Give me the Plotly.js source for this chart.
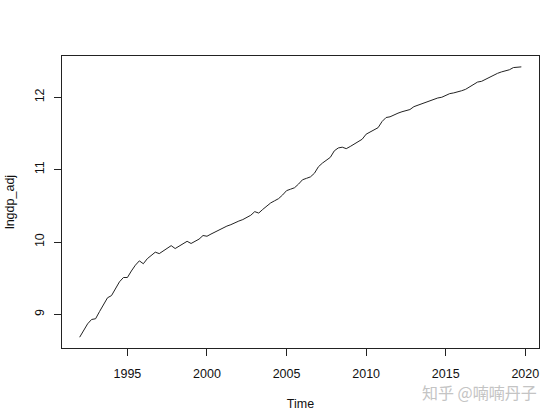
<!DOCTYPE html>
<html>
<head>
<meta charset="utf-8">
<script src="https://cdn.plot.ly/plotly-3.0.1.min.js"></script>
<style>html,body{margin:0;padding:0;background:#fff;}#chart{width:555px;height:416px;}</style>
</head>
<body>
<div id="chart"></div>
<script>
// Quarterly series, 1992 Q1 .. 2019 Q4
var startYear = 1992;
var lngdp_adj = [
  8.685, 8.78, 8.87, 8.93,     // 1992
  8.94, 9.04, 9.13, 9.23,      // 1993
  9.26, 9.36, 9.45, 9.51,      // 1994
  9.51, 9.60, 9.68, 9.74,      // 1995
  9.70, 9.77, 9.82, 9.86,      // 1996
  9.84, 9.88, 9.92, 9.95,      // 1997
  9.91, 9.94, 9.98, 10.01,     // 1998
  9.98, 10.01, 10.04, 10.09,   // 1999
  10.08, 10.11, 10.14, 10.17,  // 2000
  10.20, 10.22, 10.24, 10.27,  // 2001
  10.29, 10.31, 10.34, 10.37,  // 2002
  10.42, 10.40, 10.45, 10.50,  // 2003
  10.54, 10.57, 10.60, 10.65,  // 2004
  10.71, 10.73, 10.75, 10.80,  // 2005
  10.86, 10.88, 10.90, 10.95,  // 2006
  11.04, 11.09, 11.13, 11.17,  // 2007
  11.26, 11.30, 11.31, 11.29,  // 2008
  11.32, 11.35, 11.39, 11.42,  // 2009
  11.49, 11.52, 11.54, 11.58,  // 2010
  11.665, 11.72, 11.73, 11.76, // 2011
  11.78, 11.80, 11.81, 11.83,  // 2012
  11.87, 11.89, 11.91, 11.935, // 2013
  11.96, 11.98, 11.99, 12.00,  // 2014
  12.03, 12.05, 12.06, 12.07,  // 2015
  12.09, 12.11, 12.14, 12.17,  // 2016
  12.21, 12.22, 12.25, 12.27,  // 2017
  12.31, 12.33, 12.35, 12.365, // 2018
  12.38, 12.41, 12.415, 12.42  // 2019
];
var time = lngdp_adj.map(function(_, i){ return startYear + i / 4; });
var xTicks = [1995, 2000, 2005, 2010, 2015, 2020];
var yTicks = [9, 10, 11, 12];

var font = {family: 'Liberation Sans, Arial, sans-serif', size: 12.5, color: '#111'};

Plotly.newPlot('chart', [{
  x: time, y: lngdp_adj, type: 'scatter', mode: 'lines',
  line: {color: '#222', width: 1}, hoverinfo: 'x+y'
}], {
  width: 555, height: 416,
  margin: {l: 62, r: 16, t: 56, b: 68},
  paper_bgcolor: '#fff', plot_bgcolor: '#fff',
  font: font,
  showlegend: false,
  xaxis: {
    range: [1990.89, 2020.86], tickvals: xTicks, ticktext: xTicks.map(String),
    showgrid: false, zeroline: false, showline: true, mirror: true,
    linecolor: '#222', linewidth: 1, ticks: 'outside', ticklen: 7, tickcolor: '#222', tickwidth: 1,
    ticklabelstandoff: 7,
    title: {text: 'Time', font: font, standoff: 19}
  },
  yaxis: {
    range: [8.536, 12.57], tickvals: yTicks, ticktext: yTicks.map(String),
    showgrid: false, zeroline: false, showline: true, mirror: true,
    linecolor: '#222', linewidth: 1, ticks: 'outside', ticklen: 7, tickcolor: '#222', tickwidth: 1,
    tickangle: -90, ticklabelstandoff: 5,
    title: {text: 'lngdp_adj', font: font, standoff: 15}
  },
  annotations: [{
    text: '知乎 @喃喃丹子', xref: 'paper', yref: 'paper', x: 1.0, y: -0.151,
    xanchor: 'right', yanchor: 'middle', showarrow: false,
    font: {family: 'Noto Sans CJK SC, sans-serif', size: 16, color: '#c4c4c4'}
  }]
}, {displayModeBar: false, staticPlot: true});
</script>
</body>
</html>
